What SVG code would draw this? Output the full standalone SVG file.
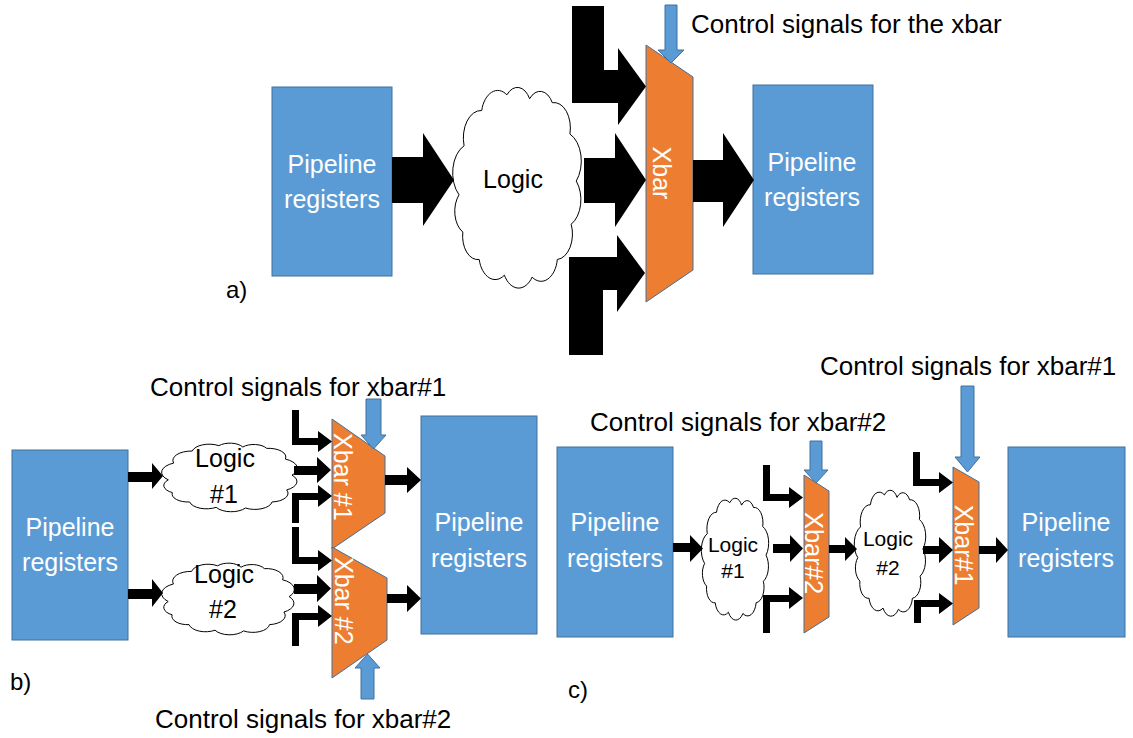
<svg xmlns="http://www.w3.org/2000/svg" width="1133" height="738" viewBox="0 0 1133 738">
<style>
.box{fill:#5B9BD5;stroke:#41719C;stroke-width:1}
.xbar{fill:#ED7D31;stroke:#41719C;stroke-width:1}
.cloud{fill:#fff;stroke:#000;stroke-width:1}
.arr{fill:#000}
.ctl{fill:#5B9BD5;stroke:#41719C;stroke-width:1}
text{font-family:'Liberation Sans',Arial,sans-serif}
.wt{fill:#fff;font-size:25px;text-anchor:middle}
.xt{fill:#fff;font-size:25px}
.lt{fill:#000;font-size:25px;text-anchor:middle}
.lbl{fill:#000;font-size:26px}
</style>
<defs>
<path id="cloudShape" d="M4,55 A15,15 0 0 1 8,30 A14,14 0 0 1 22,12 A13,13 0 0 1 42,4 A11,11 0 0 1 60,6 A11,11 0 0 1 78,8 A13,13 0 0 1 92,24 A15,15 0 0 1 97,48 A14,14 0 0 1 93,70 A13,13 0 0 1 82,88 A13,13 0 0 1 62,97 A13,13 0 0 1 40,96 A13,13 0 0 1 20,88 A12,12 0 0 1 7,74 A12,12 0 0 1 4,55 Z"/>
</defs>
<rect width="1133" height="738" fill="#fff"/>

<!-- clouds -->
<g id="cloud-a"><path class="cloud" vector-effect="non-scaling-stroke" transform="translate(454,87) scale(1.26,1.96)" d="M4,55 A15,15 0 0 1 8,30 A14,14 0 0 1 22,12 A13,13 0 0 1 42,4 A11,11 0 0 1 60,6 A11,11 0 0 1 78,8 A13,13 0 0 1 92,24 A15,15 0 0 1 97,48 A14,14 0 0 1 93,70 A13,13 0 0 1 82,88 A13,13 0 0 1 62,97 A13,13 0 0 1 40,96 A13,13 0 0 1 20,88 A12,12 0 0 1 7,74 A12,12 0 0 1 4,55 Z"/><text class="lt" x="513" y="188">Logic</text></g>
<g id="cloud-b1"><path class="cloud" vector-effect="non-scaling-stroke" transform="translate(163,443) scale(1.33,0.67)" d="M4,55 A15,15 0 0 1 8,30 A14,14 0 0 1 22,12 A13,13 0 0 1 42,4 A11,11 0 0 1 60,6 A11,11 0 0 1 78,8 A13,13 0 0 1 92,24 A15,15 0 0 1 97,48 A14,14 0 0 1 93,70 A13,13 0 0 1 82,88 A13,13 0 0 1 62,97 A13,13 0 0 1 40,96 A13,13 0 0 1 20,88 A12,12 0 0 1 7,74 A12,12 0 0 1 4,55 Z"/><text class="lt" x="225" y="467">Logic</text><text class="lt" x="224" y="503">#1</text></g>
<g id="cloud-b2"><path class="cloud" vector-effect="non-scaling-stroke" transform="translate(163,563) scale(1.30,0.70)" d="M4,55 A15,15 0 0 1 8,30 A14,14 0 0 1 22,12 A13,13 0 0 1 42,4 A11,11 0 0 1 60,6 A11,11 0 0 1 78,8 A13,13 0 0 1 92,24 A15,15 0 0 1 97,48 A14,14 0 0 1 93,70 A13,13 0 0 1 82,88 A13,13 0 0 1 62,97 A13,13 0 0 1 40,96 A13,13 0 0 1 20,88 A12,12 0 0 1 7,74 A12,12 0 0 1 4,55 Z"/><text class="lt" x="224" y="583">Logic</text><text class="lt" x="223" y="618">#2</text></g>
<g id="cloud-c1"><path class="cloud" vector-effect="non-scaling-stroke" transform="translate(702,498) scale(0.66,1.19)" d="M4,55 A15,15 0 0 1 8,30 A14,14 0 0 1 22,12 A13,13 0 0 1 42,4 A11,11 0 0 1 60,6 A11,11 0 0 1 78,8 A13,13 0 0 1 92,24 A15,15 0 0 1 97,48 A14,14 0 0 1 93,70 A13,13 0 0 1 82,88 A13,13 0 0 1 62,97 A13,13 0 0 1 40,96 A13,13 0 0 1 20,88 A12,12 0 0 1 7,74 A12,12 0 0 1 4,55 Z"/><text class="lt" x="733" y="552" style="font-size:21px">Logic</text><text class="lt" x="733" y="578" style="font-size:21px">#1</text></g>
<g id="cloud-c2"><path class="cloud" vector-effect="non-scaling-stroke" transform="translate(855,490) scale(0.70,1.23)" d="M4,55 A15,15 0 0 1 8,30 A14,14 0 0 1 22,12 A13,13 0 0 1 42,4 A11,11 0 0 1 60,6 A11,11 0 0 1 78,8 A13,13 0 0 1 92,24 A15,15 0 0 1 97,48 A14,14 0 0 1 93,70 A13,13 0 0 1 82,88 A13,13 0 0 1 62,97 A13,13 0 0 1 40,96 A13,13 0 0 1 20,88 A12,12 0 0 1 7,74 A12,12 0 0 1 4,55 Z"/><text class="lt" x="888" y="546" style="font-size:21px">Logic</text><text class="lt" x="888" y="575" style="font-size:21px">#2</text></g>

<!-- pipeline register boxes -->
<g id="reg-a-in"><rect class="box" x="272" y="87" width="120" height="189"/><text class="wt" x="332" y="173">Pipeline</text><text class="wt" x="332" y="208">registers</text></g>
<g id="reg-a-out"><rect class="box" x="753" y="85" width="120" height="189"/><text class="wt" x="812" y="171">Pipeline</text><text class="wt" x="812" y="206">registers</text></g>
<g id="reg-b-in"><rect class="box" x="12" y="450" width="116" height="190"/><text class="wt" x="70" y="536">Pipeline</text><text class="wt" x="70" y="571">registers</text></g>
<g id="reg-b-out"><rect class="box" x="421" y="416" width="116" height="218"/><text class="wt" x="479" y="531">Pipeline</text><text class="wt" x="479" y="567">registers</text></g>
<g id="reg-c-in"><rect class="box" x="557" y="447" width="116" height="190"/><text class="wt" x="615" y="531">Pipeline</text><text class="wt" x="615" y="567">registers</text></g>
<g id="reg-c-out"><rect class="box" x="1008" y="447" width="117" height="190"/><text class="wt" x="1066" y="531">Pipeline</text><text class="wt" x="1066" y="567">registers</text></g>

<!-- crossbars -->
<g id="xbar-a"><polygon class="xbar" points="646,45 693,77 693,270 646,302"/><text class="xt" transform="translate(653,173) rotate(90)" text-anchor="middle">Xbar</text></g>
<g id="xbar-b1"><polygon class="xbar" points="332,419 385,456 385,513 332,549"/><text class="xt" transform="translate(334,433) rotate(90)">Xbar #1</text></g>
<g id="xbar-b2"><polygon class="xbar" points="332,547 387,578 387,640 332,678"/><text class="xt" transform="translate(335,557) rotate(90)">Xbar #2</text></g>
<g id="xbar-c2"><polygon class="xbar" points="804,475 829,491 829,617 804,633"/><text class="xt" transform="translate(805,553) rotate(90)" text-anchor="middle" style="font-size:25.5px">Xbar#2</text></g>
<g id="xbar-c1"><polygon class="xbar" points="953,467 979,482 979,608 953,625"/><text class="xt" transform="translate(955,545) rotate(90)" text-anchor="middle">Xbar#1</text></g>

<!-- connectors -->
<g id="connectors">
<polygon class="arr" points="392,157 423,157 423,133 454,180 423,226 423,203 392,203"/>
<polygon class="arr" points="572,6 604,6 604,70 618,70 618,48 646,86.5 618,125 618,103 572,103"/>
<polygon class="arr" points="584,158 615,158 615,133 646,180 615,227 615,203 584,203"/>
<polygon class="arr" points="617,235 645,273 617,312 617,290 603,290 603,355 569,355 569,257 617,257"/>
<polygon class="arr" points="693,160 723,160 723,133 754,180 723,227 723,202 693,202"/>
<polygon class="ctl" points="665,5 677,5 677,50 684,50 671,63 658,50 665,50"/>

<polygon class="arr" points="128,472 152,472 152,463 163,476 152,489 152,482 128,482"/>
<polygon class="arr" points="128,589 152,589 152,579 163,593 152,607 152,599 128,599"/>
<polygon class="arr" points="292,410 299,410 299,438 318,438 318,431 332,441.5 318,452 318,445 292,445"/>
<polygon class="arr" points="294,466 317,466 317,457 331,470 317,483 317,475 294,475"/>
<polygon class="arr" points="318,485 332,496 318,507 318,500 299,500 299,523 292,523 292,493 318,493"/>
<polygon class="arr" points="292,527 299,527 299,557 318,557 318,550 332,560.5 318,571 318,564 292,564"/>
<polygon class="arr" points="294,584 317,584 317,575 331,588.5 317,602 317,594 294,594"/>
<polygon class="arr" points="318,605 332,616 318,627 318,620 299,620 299,646 292,646 292,613 318,613"/>
<polygon class="arr" points="385,475 407,475 407,467 421,480 407,493 407,485 385,485"/>
<polygon class="arr" points="387,594 407,594 407,585 421,598.5 407,612 407,603 387,603"/>
<polygon class="ctl" points="366,399 381,399 381,435 386,435 373.5,449 361,435 366,435"/>
<polygon class="ctl" points="367.5,654 380,668 374,668 374,699 361,699 361,668 355,668"/>

<polygon class="arr" points="673,543 690,543 690,535 703,548.5 690,562 690,552 673,552"/>
<polygon class="arr" points="773,544 790,544 790,535 803,548.5 790,562 790,553 773,553"/>
<polygon class="arr" points="763,465 770,465 770,494 789,494 789,487 803,497.5 789,508 789,501 763,501"/>
<polygon class="arr" points="789,587 803,598 789,609 789,602 770,602 770,633 763,633 763,595 789,595"/>
<polygon class="arr" points="829,545 845,545 845,537 857,549 845,561 845,553 829,553"/>
<polygon class="arr" points="913,452 920,452 920,479 939,479 939,472 953,482.5 939,493 939,486 913,486"/>
<polygon class="arr" points="923,546 939,546 939,537 953,550 939,563 939,554 923,554"/>
<polygon class="arr" points="939,593 953,603.5 939,614 939,607 921,607 921,623 914,623 914,600 939,600"/>
<polygon class="arr" points="979,546 996,546 996,537 1008,550 996,563 996,554 979,554"/>
<polygon class="ctl" points="961,386 974,386 974,457 980,457 967.5,472 955,457 961,457"/>
<polygon class="ctl" points="810,441 822,441 822,470 828,470 816,483 804,470 810,470"/>
</g>

<!-- labels -->
<g id="labels">
<text class="lbl" x="691" y="33">Control signals for the xbar</text>
<text class="lbl" x="150" y="396">Control signals for xbar#1</text>
<text class="lbl" x="155" y="728">Control signals for xbar#2</text>
<text class="lbl" x="820" y="375">Control signals for xbar#1</text>
<text class="lbl" x="590" y="431">Control signals for xbar#2</text>
<text class="lbl" x="226" y="298" style="font-size:24px">a)</text>
<text class="lbl" x="10" y="690" style="font-size:24px">b)</text>
<text class="lbl" x="568" y="698" style="font-size:24px">c)</text>
</g>
</svg>
